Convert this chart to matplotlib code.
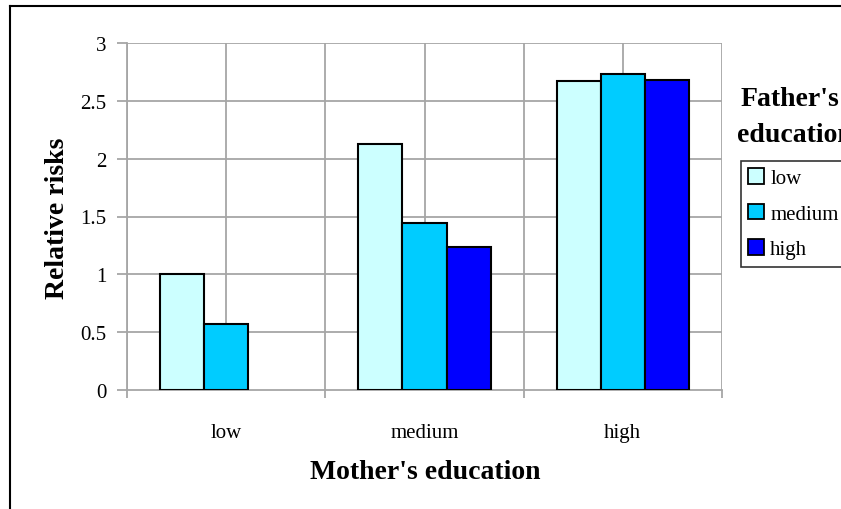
import matplotlib
matplotlib.use("Agg")
import matplotlib.pyplot as plt
import numpy as np
from matplotlib.patches import Patch
from matplotlib.lines import Line2D

# Relative risks by mother's education (groups) and father's education (series)
mother_levels = ["low", "medium", "high"]
father_levels = ["low", "medium", "high"]
risk_father_low = [1.00, 2.13, 2.67]
risk_father_medium = [0.57, 1.44, 2.73]
risk_father_high = [np.nan, 1.24, 2.68]
yticks = [0, 0.5, 1, 1.5, 2, 2.5, 3]
ytick_labels = ["0", "0.5", "1", "1.5", "2", "2.5", "3"]

colors = ["#CCFFFF", "#00CCFF", "#0000FF"]
series = [risk_father_low, risk_father_medium, risk_father_high]

plt.rcParams["font.family"] = ["Liberation Serif", "DejaVu Serif"]

W, H = 841, 510
fig = plt.figure(figsize=(W / 100, H / 100), dpi=100)
ax = fig.add_axes([127 / W, 1 - 391 / H, (722 - 127) / W, (391 - 44) / H])

grid_c = "#A6A6A6"
n = len(series)
gap = 1.5
bw = 1.0 / (n + gap)
x = np.arange(len(mother_levels))
for i, (vals, col) in enumerate(zip(series, colors)):
    offs = (i - (n - 1) / 2) * bw
    ax.bar(x + offs, vals, width=bw, color=col, edgecolor="black",
           linewidth=1.5, zorder=3, label=father_levels[i])

ax.set_xlim(-0.5, len(mother_levels) - 0.5)
ax.set_ylim(0, 3)
ax.set_yticks(yticks)
ax.set_yticklabels(ytick_labels)

# gridlines at category boundaries and centres, and every 0.5 on y
for gx in np.arange(-0.5, len(mother_levels) - 0.4, 0.5):
    ax.axvline(gx, color=grid_c, linewidth=1.3, zorder=1)
for gy in yticks[1:]:
    ax.axhline(gy, color=grid_c, linewidth=1.3, zorder=1)

ax.set_xticks(np.arange(-0.5, len(mother_levels), 1.0))
ax.set_xticklabels([])
ax.set_xticks(x, minor=True)
ax.set_xticklabels(mother_levels, minor=True)
ax.tick_params(axis="x", which="major", length=6, width=1.3, color=grid_c,
               direction="out")
ax.tick_params(axis="x", which="minor", length=0, pad=24, labelsize=15)
ax.tick_params(axis="y", length=7, width=1.3, color=grid_c, direction="out",
               pad=8, labelsize=15)

for s in ["top", "right"]:
    ax.spines[s].set_visible(False)
for s in ["left", "bottom"]:
    ax.spines[s].set_color(grid_c)
    ax.spines[s].set_linewidth(1.3)

fig.text(425 / W, 1 - 473 / H, "Mother's education", ha="center",
         va="center", fontsize=20, fontweight="bold")
fig.text(58 / W, 1 - 218 / H, "Relative risks", ha="center", va="center",
         rotation=90, fontsize=20, fontweight="bold")

# legend title sits above the legend box
fig.text(741 / W, 1 - 100 / H, "Father's", ha="left", va="center",
         fontsize=20, fontweight="bold")
fig.text(737 / W, 1 - 136 / H, "education", ha="left", va="center",
         fontsize=20, fontweight="bold")

handles = [Patch(facecolor=c, edgecolor="black", linewidth=1.3) for c in colors]
leg = fig.legend(handles, father_levels, loc="upper left",
                 bbox_to_anchor=(741 / W, 1 - 162 / H), frameon=True,
                 fancybox=False, shadow=False, fontsize=15,
                 handlelength=0.75, handleheight=0.75, handletextpad=0.3,
                 labelspacing=0.75, borderpad=0.35, borderaxespad=0)
leg.get_frame().set_edgecolor("black")
leg.get_frame().set_linewidth(1.2)

# chart border (left and top edges visible)
fig.add_artist(Line2D([10 / W, 10 / W], [0, 1 - 7 / H], color="black",
                      linewidth=1.5, transform=fig.transFigure))
fig.add_artist(Line2D([10 / W, 1], [1 - 7 / H, 1 - 7 / H], color="black",
                      linewidth=1.5, transform=fig.transFigure))

fig.savefig("out.png", dpi=100)
